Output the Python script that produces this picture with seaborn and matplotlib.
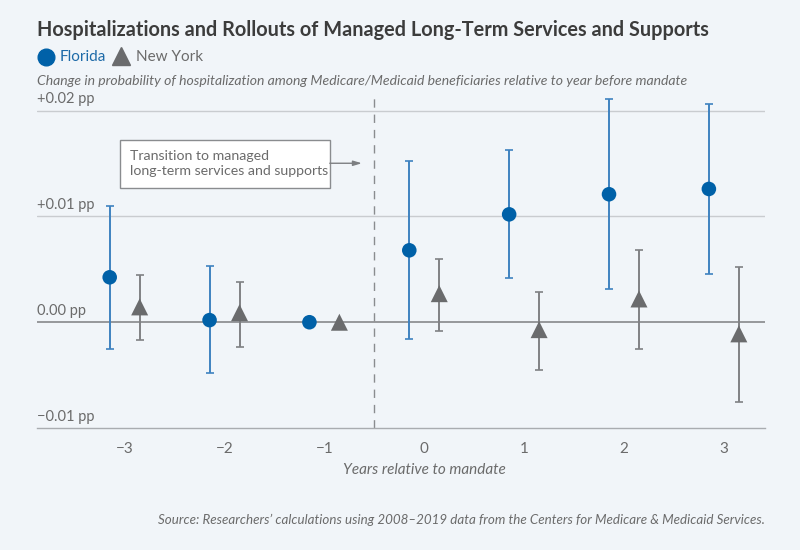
import matplotlib
matplotlib.use("Agg")
import matplotlib.pyplot as plt
import matplotlib.transforms as mtransforms
from matplotlib.lines import Line2D
from matplotlib.patches import Rectangle
import seaborn as sns
import pandas as pd
import numpy as np

# ---- data ----
years = [-3, -2, -1, 0, 1, 2, 3]
florida = [0.00425, 0.0002, 0.0, 0.0068, 0.0102, 0.0121, 0.0126]
florida_lo = [-0.0025, -0.0048, None, -0.00155, 0.0042, 0.0031, 0.0046]
florida_hi = [0.0110, 0.0053, None, 0.01525, 0.0163, 0.0211, 0.0206]
newyork = [0.00145, 0.0009, 0.0, 0.0027, -0.0007, 0.0022, -0.0011]
newyork_lo = [-0.0017, -0.0023, None, -0.00085, -0.0045, -0.0025, -0.0075]
newyork_hi = [0.0045, 0.0038, None, 0.0060, 0.0029, 0.0068, 0.0052]
ytick_vals = [0.02, 0.01, 0.0, -0.01]
ytick_labels = ["+0.02 pp", "+0.01 pp", "0.00 pp", "\u22120.01 pp"]
xtick_labels = ["\u22123", "\u22122", "\u22121", "0", "1", "2", "3"]

BG = "#f1f5f9"
BLUE = "#0061a8"
BLUE_ERR = "#3f82c0"
GRAY = "#6a6b6d"
GRAY_ERR = "#808184"
TEXT = "#3c3c3c"
TEXT2 = "#6b6b6b"

sns.set_style("white")
plt.rcParams["font.family"] = ["Lato", "DejaVu Sans"]

offset = 0.15
rows = []
for y, v, lo, hi in zip(years, florida, florida_lo, florida_hi):
    rows.append(dict(x=y - offset, value=v, lo=lo, hi=hi, state="Florida"))
for y, v, lo, hi in zip(years, newyork, newyork_lo, newyork_hi):
    rows.append(dict(x=y + offset, value=v, lo=lo, hi=hi, state="New York"))
df = pd.DataFrame(rows)

fig = plt.figure(figsize=(8, 5.5), dpi=100, facecolor=BG)
ax = fig.add_axes([0.046, 0.2218, 0.91, 0.6058])
ax.set_facecolor(BG)

xmin, xmax = -3.88, 3.41
ymin, ymax = -0.01, 0.0215
ax.set_xlim(xmin, xmax)
ax.set_ylim(ymin, ymax)

# gridlines
ax.axhline(0.02, color="#c9ccd0", lw=1, zorder=1)
ax.axhline(0.01, color="#c9ccd0", lw=1, zorder=1)
ax.axhline(0.0, color="#7d7f82", lw=1.1, zorder=1)
# vertical dashed line
ax.axvline(-0.5, color="#8a8c8f", lw=1, ls=(0, (6, 5)), zorder=1)

# error bars
for st, col in (("Florida", BLUE_ERR), ("New York", GRAY_ERR)):
    sub = df[(df.state == st) & df.lo.notna()]
    yerr = np.vstack([sub.value - sub.lo, sub.hi - sub.value])
    ax.errorbar(sub.x, sub.value, yerr=yerr, fmt="none", ecolor=col,
                elinewidth=1.4, capsize=3, capthick=1.2, zorder=2)

sns.scatterplot(data=df, x="x", y="value", hue="state", style="state",
                palette={"Florida": BLUE, "New York": GRAY},
                markers={"Florida": "o", "New York": "^"},
                size="state", sizes={"Florida": 110, "New York": 150},
                edgecolor="none", linewidth=0, legend=False, ax=ax, zorder=3)

# axes styling
for s in ["top", "right", "left"]:
    ax.spines[s].set_visible(False)
ax.spines["bottom"].set_color("#a9acb0")
ax.spines["bottom"].set_linewidth(1)
ax.set_xticks(years)
ax.set_xticklabels(xtick_labels, fontsize=11, color=TEXT2)
ax.tick_params(axis="x", length=7, width=1, color="#a9acb0", pad=3, direction="out")
ax.set_yticks([])
ax.set_xlabel("Years relative to mandate", fontsize=11, style="italic", color=TEXT2)
ax.xaxis.set_label_coords((0 - xmin) / (xmax - xmin), -0.105)
ax.set_ylabel("")

# y tick labels above gridlines
trans = mtransforms.blended_transform_factory(ax.transAxes, ax.transData)
for v, lab in zip(ytick_vals, ytick_labels):
    ax.text(0.0, v + 0.0004, lab, transform=trans, ha="left", va="bottom",
            fontsize=10.5, color=TEXT2)

# annotation box + arrow
ax.add_patch(Rectangle((-3.049, 0.01269), 2.103, 0.00454, fc="white",
                       ec="#8a8c8f", lw=1, zorder=4))
ax.text(-2.95, 0.01496, "Transition to managed\nlong-term services and supports",
        ha="left", va="center", fontsize=10.2, color=TEXT2, linespacing=1.3, zorder=5)
ax.annotate("", xy=(-0.625, 0.01503), xytext=(-0.946, 0.01503),
            arrowprops=dict(arrowstyle="-|>,head_length=0.5,head_width=0.15",
                            color="#7d7f82", lw=1, shrinkA=0, shrinkB=0), zorder=4)

# title, legend, subtitle, source
fig.text(37 / 800, 1 - 30 / 550, "Hospitalizations and Rollouts of Managed Long-Term Services and Supports",
         fontsize=14.3, fontweight="bold", color=TEXT, ha="left", va="center")
fig.add_artist(Line2D([45.5 / 800], [1 - 57 / 550], marker="o", markersize=12,
                      color=BLUE, lw=0, transform=fig.transFigure))
fig.text(60 / 800, 1 - 57 / 550, "Florida", fontsize=11, color="#1d6aa8", ha="left", va="center")
fig.add_artist(Line2D([121 / 800], [1 - 56 / 550], marker="^", markersize=13,
                      color=GRAY, lw=0, transform=fig.transFigure))
fig.text(136 / 800, 1 - 57 / 550, "New York", fontsize=11, color=TEXT2, ha="left", va="center")
fig.text(37 / 800, 1 - 81 / 550,
         "Change in probability of hospitalization among Medicare/Medicaid beneficiaries relative to year before mandate",
         fontsize=10.1, style="italic", color=TEXT2, ha="left", va="center")
fig.text(765 / 800, 1 - 520 / 550,
         "Source: Researchers\u2019 calculations using 2008\u20132019 data from the Centers for Medicare & Medicaid Services.",
         fontsize=9.6, style="italic", color=TEXT2, ha="right", va="center")

fig.savefig("out.png", dpi=100, facecolor=BG)
